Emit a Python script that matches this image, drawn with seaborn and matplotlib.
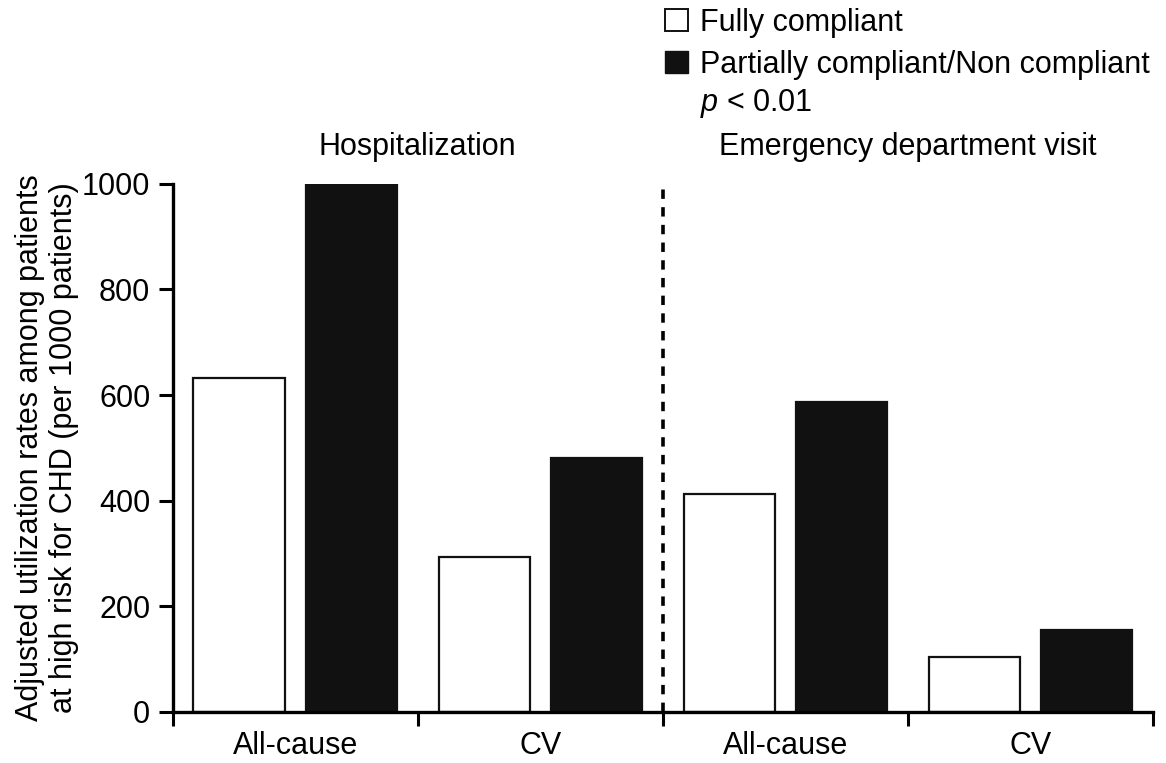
import pandas as pd
import matplotlib
matplotlib.use("Agg")
import matplotlib.pyplot as plt
from matplotlib.patches import Patch
import seaborn as sns

# values
groups = ["Hospitalization", "Emergency department visit"]
categories = ["H All-cause", "H CV", "E All-cause", "E CV"]
tick_labels = ["All-cause", "CV", "All-cause", "CV"]
fully = [632, 293, 413, 104]
partial = [1000, 481, 587, 155]
series = ["Fully compliant", "Partially compliant/Non compliant"]

df = pd.DataFrame({
    "category": categories * 2,
    "compliance": [series[0]] * 4 + [series[1]] * 4,
    "rate": fully + partial,
})

sns.set_style("white")
plt.rcParams["font.family"] = ["Liberation Sans", "DejaVu Sans"]
plt.rcParams["mathtext.fontset"] = "custom"
plt.rcParams["mathtext.it"] = "Liberation Sans:italic"
plt.rcParams["mathtext.rm"] = "Liberation Sans"
for k in ["text.color", "axes.labelcolor", "xtick.color", "ytick.color"]:
    plt.rcParams[k] = "black"

fig = plt.figure(figsize=(11.66, 7.63), dpi=100)
ax = fig.add_axes([0.148, 0.067, 0.841, 0.692])

sns.barplot(data=df, x="category", y="rate", hue="compliance", order=categories,
            hue_order=series, palette=["white", "#111111"], width=0.916, gap=0.188,
            edgecolor="#111111", linewidth=1.6, legend=False, ax=ax)

ax.set_xlim(-0.5, 3.5)
ax.set_ylim(0, 1000)
ax.set_yticks([0, 200, 400, 600, 800, 1000])
ax.set_xticks(range(4))
ax.set_xticklabels(tick_labels, fontsize=22)
ax.set_xticks([-0.5, 0.5, 1.5, 2.5, 3.5], minor=True)
ax.tick_params(axis="x", which="major", length=0, pad=14)
ax.tick_params(axis="x", which="minor", direction="out", length=10, width=2.2, color="black")
ax.tick_params(axis="y", direction="out", length=10, width=2.2, labelsize=22, color="black", pad=6)
ax.yaxis.set_ticks_position("left")
ax.xaxis.set_ticks_position("bottom")

sns.despine(ax=ax)
for s in ["left", "bottom"]:
    ax.spines[s].set_linewidth(2.4)
    ax.spines[s].set_color("black")

ax.set_xlabel("")
ax.set_ylabel("Adjusted utilization rates among patients\nat high risk for CHD (per 1000 patients)",
              fontsize=22, linespacing=1.2, labelpad=2)

# divider between the two panels
ax.plot([1.5, 1.5], [0, 1000], color="black", lw=2.6, linestyle=(0, (2.6, 2.3)),
        clip_on=False, zorder=5)

ax.text(0.5, 1.07, groups[0], transform=ax.get_xaxis_transform(),
        ha="center", va="center", fontsize=22)
ax.text(2.5, 1.07, groups[1], transform=ax.get_xaxis_transform(),
        ha="center", va="center", fontsize=22)

# legend
handles = [Patch(facecolor="white", edgecolor="#111111", linewidth=1.4),
           Patch(facecolor="#111111", edgecolor="#111111")]
fig.legend(handles, series, loc="upper left", bbox_to_anchor=(0.570, 0.990),
           frameon=False, fontsize=22, handlelength=0.75, handleheight=0.75,
           handletextpad=0.42, labelspacing=0.4, borderaxespad=0, borderpad=0)
fig.text(0.600, 0.865, r"$p$ < 0.01", fontsize=22, va="center", ha="left")

fig.savefig("out.png", dpi=100)
